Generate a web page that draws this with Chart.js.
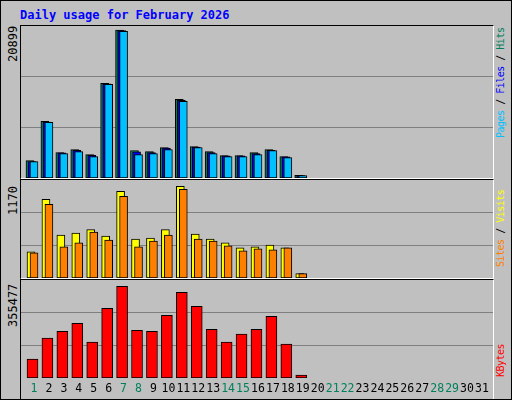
<!DOCTYPE html>
<html><head><meta charset="utf-8">
<script src="https://cdn.jsdelivr.net/npm/chart.js@4"></script>
<style>
body{margin:0;background:#fff}
#wrap{position:relative;width:510px;height:398px;background:#c0c0c0;border:1px solid #000;font-family:"DejaVu Sans Mono",monospace;overflow:hidden}
.panel{position:absolute;left:19px;width:472px;border-top:1px solid #000;border-left:1px solid #000;border-bottom:2px solid #fff;border-right:1px solid #fff}
canvas{display:block}
.t{position:absolute;white-space:nowrap;font-size:12px}
.rot{transform-origin:left top;transform:rotate(-90deg)}
.r{font-size:10px;letter-spacing:-0.5px}
</style></head><body>
<div id="wrap">
<div class="t" style="left:19px;top:7px;color:#0000ff;font-weight:bold">Daily usage for February 2026</div>
<div class="panel" style="top:24px;height:152px"><canvas id="c1"></canvas></div>
<div class="panel" style="top:178px;height:98px"><canvas id="c2"></canvas></div>
<div class="panel" style="top:278px;height:120px;border-bottom:none"><canvas id="c3"></canvas></div>
<div id="lab"></div>
</div>
<script>
const days=[1,2,3,4,5,6,7,8,9,10,11,12,13,14,15,16,17,18,19,20,21,22,23,24,25,26,27,28,29,30,31];
const weekend=[1,7,8,14,15,21,22,28,29];
const hits=[2459,7991,3593,4019,3310,13381,20899,3877,3735,4303,11111,4445,3735,3168,3168,3593,4019,3026,378];
const files=[2317,7896,3546,3924,3215,13286,20804,3688,3593,4208,10969,4350,3593,3121,3121,3452,3924,2979,331];
const pages=[2317,7849,3452,3735,3026,13239,20710,3310,3452,4019,10827,4303,3452,3026,3026,3310,3877,2884,331];
const visits=[334,1005,549,574,617,536,1107,498,511,617,1170,562,498,448,384,397,422,384,55];
const sites=[321,942,397,448,587,486,1043,397,473,549,1132,498,473,410,346,372,359,384,55];
const kbytes=[73413,154555,181600,212510,139099,270471,355477,185464,181600,243424,332294,278199,189328,139099,170010,189328,239560,131372,11592];

function pts(arr,off){return arr.map((v,i)=>({x:days[i]+off,y:v}));}
function ds(arr,off,color,w,ord){return {data:pts(arr,off),backgroundColor:color,borderColor:'#000',borderWidth:1,barThickness:w,grouped:false,borderSkipped:false,order:ord};}
const XMIN=0.13,XMAX=31.74;
function make(id,w,h,sets,max,fac,showX){
  const cv=document.getElementById(id);cv.width=w;cv.height=h;cv.style.width=w+'px';cv.style.height=h+'px';
  const top=max*fac;
  return new Chart(cv,{type:'bar',data:{datasets:sets},options:{
    responsive:false,animation:false,devicePixelRatio:1,
    layout:{padding:0},
    plugins:{legend:{display:false},tooltip:{enabled:false}},
    scales:{
      x:{type:'linear',min:XMIN,max:XMAX,display:showX,offset:false,
         grid:{display:false,drawTicks:false},border:{display:false},
         afterBuildTicks:s=>{s.ticks=days.map(d=>({value:d}));},
         afterFit:s=>{if(showX)s.height=22;},
         ticks:{autoSkip:false,maxRotation:0,padding:4,font:{family:'DejaVu Sans Mono',size:11.5},
           color:c=>weekend.includes(days[c.index])?'#00805c':'#000',callback:v=>String(v)}},
      y:{min:0,max:top,display:true,afterFit:s=>{s.width=0;},
         afterBuildTicks:s=>{s.ticks=[1,2].map(k=>({value:top*k/3}));},
         ticks:{display:false},border:{display:false},
         grid:{color:'#808080',lineWidth:1,drawTicks:false}}
    }}});
}
make('c1',472,152,[ds(hits,-0.27,'#00805c',8,3),ds(files,-0.13,'#0000ff',8,2),ds(pages,0,'#00c0ff',8,1)],Math.max(...hits),1.027,false);
make('c2',472,98,[ds(visits,-0.2,'#ffff00',8,2),ds(sites,0,'#ff8000',8,1)],Math.max(...visits),1.07,false);
make('c3',472,120,[ds(kbytes,-0.1,'#ff0000',11,1)],Math.max(...kbytes),1.07,true);

const lab=document.getElementById('lab');
function rt(html,x,yBottom,cls){const d=document.createElement('div');d.className='t rot '+(cls||'');d.innerHTML=html;lab.appendChild(d);
  d.style.left=x+'px';d.style.top=yBottom+'px';}
rt(String(Math.max(...hits)),5,61);
rt(String(Math.max(...visits)),5,214);
rt(String(Math.max(...kbytes)),5,326);
const sl='<span style="color:#000"> / </span>';
rt('<span style="color:#00c0ff">Pages</span>'+sl+'<span style="color:#0000ff">Files</span>'+sl+'<span style="color:#00805c">Hits</span>',494,137,'r');
rt('<span style="color:#ff8000">Sites</span>'+sl+'<span style="color:#ffff00">Visits</span>',494,266,'r');
rt('<span style="color:#ff0000">KBytes</span>',494,376,'r');
</script></body></html>
